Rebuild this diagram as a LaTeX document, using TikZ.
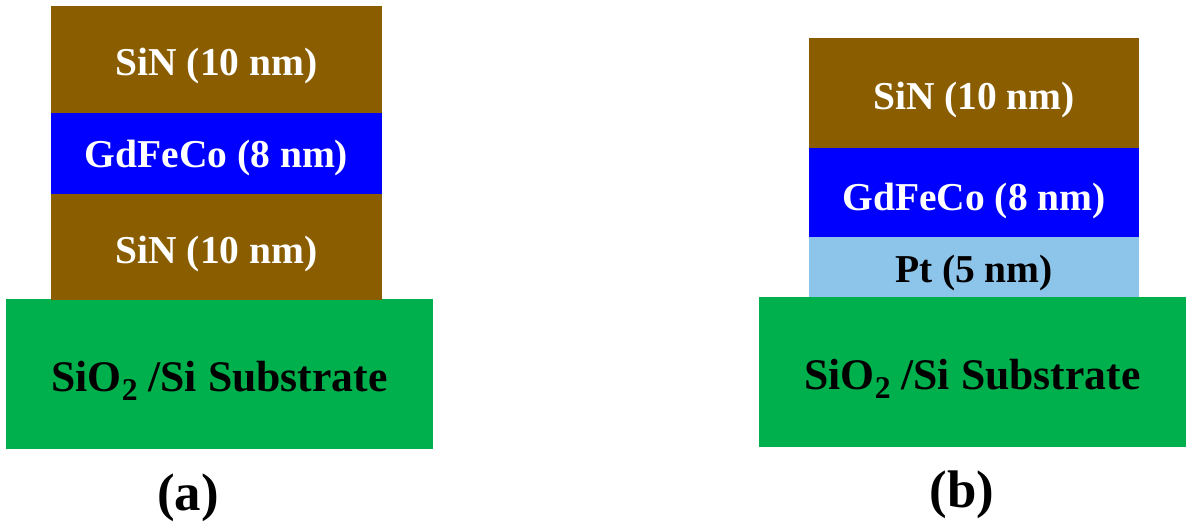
\documentclass[tikz,border=0pt]{standalone}
\usepackage{fontspec}
\setmainfont{Liberation Serif}
\usepackage{tikz}
\usetikzlibrary{positioning}
\definecolor{sinbrown}{RGB}{138, 94, 0}
\definecolor{gfcblue}{RGB}{0, 0, 255}
\definecolor{ptblue}{RGB}{141, 196, 233}
\definecolor{subgreen}{RGB}{0, 176, 76}
\newdimen\pxu
\pxu=0.6pt
\def\lblsize{23.7}
\def\subsize{26.2}
\def\capsize{31.7}
\newcommand{\subtwo}{\raisebox{-5.5pt}{\fontsize{19}{19}\selectfont 2}}
\tikzset{
    basedrop/.style={text depth=0pt, text height=#1*1.2pt},
    layer/.style={inner sep=0pt, outer sep=0pt, minimum width=331\pxu, font=\fontsize{\lblsize}{\lblsize}\selectfont\bfseries},
    whitelayer/.style={layer, text=white},
    substrate/.style={inner sep=0pt, outer sep=0pt, fill=subgreen, minimum width=427\pxu, minimum height=150\pxu, font=\fontsize{\subsize}{\subsize}\selectfont\bfseries},
    caption/.style={inner sep=0pt, font=\fontsize{\capsize}{\capsize}\selectfont\bfseries}
}
\begin{document}
\begin{tikzpicture}[x=0.6pt, y=-0.6pt]
            \useasboundingbox (0,0) rectangle (1194,528);
            % left stack
            \node[substrate, basedrop=17] (subA) at (219.5,374) {SiO\subtwo{} /Si Substrate};
            \node[whitelayer, basedrop=16, fill=sinbrown, minimum height=106\pxu, anchor=south] (sinAb) at (216.5,300) {SiN (10 nm)};
            \node[whitelayer, basedrop=14, fill=gfcblue, minimum height=81\pxu, above=0pt of sinAb] (gfcA) {GdFeCo (8 nm)};
            \node[whitelayer, basedrop=16, fill=sinbrown, minimum height=107\pxu, above=0pt of gfcA] (sinAt) {SiN (10 nm)};
            \node[caption] (capA) at (188,498) {(a)};
            % right stack
            \node[substrate, basedrop=17] (subB) at (972.5,372) {SiO\subtwo{} /Si Substrate};
            \node[layer, basedrop=15, fill=ptblue, minimum width=330\pxu, minimum height=60\pxu, anchor=south] (ptB) at (974,297) {Pt (5 nm)};
            \node[whitelayer, basedrop=18, fill=gfcblue, minimum width=330\pxu, minimum height=89\pxu, above=0pt of ptB] (gfcB) {GdFeCo (8 nm)};
            \node[whitelayer, basedrop=16, fill=sinbrown, minimum width=330\pxu, minimum height=110\pxu, above=0pt of gfcB] (sinB) {SiN (10 nm)};
            \node[caption] (capB) at (962,495) {(b)};
        \end{tikzpicture}
\end{document}
